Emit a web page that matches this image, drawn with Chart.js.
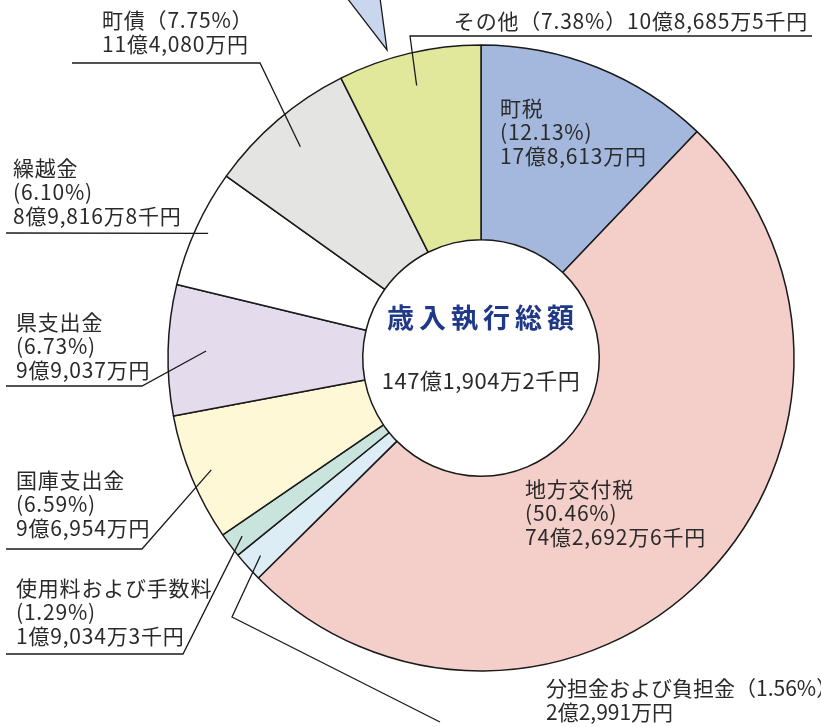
<!DOCTYPE html>
<html lang="ja">
<head>
<meta charset="utf-8">
<script src="https://cdn.jsdelivr.net/npm/chart.js@4"></script>
<style>
  body { margin: 0; background: #fff; }
  #wrap { width: 821px; height: 727px; }
</style>
</head>
<body>
<div id="wrap"><canvas id="chartRevenue" width="821" height="727"></canvas></div>
<script>
// ================================
// DATOS
// ================================
const categorias = ["町税", "地方交付税", "分担金および負担金", "使用料および手数料", "国庫支出金", "県支出金", "繰越金", "町債", "その他"];
const porcentajes = [12.13, 50.46, 1.56, 1.29, 6.59, 6.73, 6.10, 7.75, 7.38];
const importes = ["17億8,613万円", "74億2,692万6千円", "2億2,991万円", "1億9,034万3千円", "9億6,954万円", "9億9,037万円", "8億9,816万8千円", "11億4,080万円", "10億8,685万5千円"];
const colores = ["#a4b8de", "#f4cfca", "#dcedf6", "#c9e4dc", "#fff8d6", "#e4dced", "#ffffff", "#e4e4e2", "#e2e89b"];
const titulo = "歳入執行総額";
const total = "147億1,904万2千円";

// posiciones de las etiquetas (texto + líneas guía)
// r: radio del punto de anclaje dentro de la porción, path: quiebres de la línea
const etiquetas = [
    { x: 500, y: 108, lines: ["{n}", "({p}%)", "{a}"] },
    { x: 525, y: 489, lines: ["{n}", "({p}%)", "{a}"] },
    { x: 546, y: 688, ls: 0, lines: ["{n}（{p}%）", "{a}"], r: 296, path: [[232, 617], [440, 722]] },
    { x: 16, y: 588, lines: ["{n}", "({p}%)", "{a}"], r: 298, path: [[183, 654], [6, 654]] },
    { x: 16, y: 480, lines: ["{n}", "({p}%)", "{a}"], r: 292, path: [[142, 549], [6, 549]] },
    { x: 16, y: 322, lines: ["{n}", "({p}%)", "{a}"], r: 275, path: [[142, 386], [6, 386]] },
    { x: 13, y: 168, lines: ["{n}", "({p}%)", "{a}"], r: 300, path: [[6, 233]] },
    { x: 102, y: 20, lines: ["{n}（{p}%）", "{a}"], r: 278, path: [[260, 63], [72, 63]] },
    { x: 808, y: 21, align: "right", lines: ["{n}（{p}%）{a}"], r: 280, path: [[410, 36], [812, 36]] }
];

const FUENTE = '"Noto Sans CJK JP", "Noto Sans", sans-serif';

const pluginEtiquetas = {
    id: "etiquetas",
    beforeDatasetsDraw(chart) {
        // punta de globo decorativa arriba a la izquierda
        const ctx = chart.ctx;
        ctx.save();
        ctx.beginPath();
        ctx.moveTo(347, -2);
        ctx.lineTo(387, 50);
        ctx.lineTo(380, -2);
        ctx.closePath();
        ctx.fillStyle = "#c8d7ee";
        ctx.fill();
        ctx.strokeStyle = "#1a1a1a";
        ctx.lineWidth = 1.3;
        ctx.stroke();
        ctx.restore();
    },
    afterDatasetsDraw(chart) {
        const ctx = chart.ctx;
        const meta = chart.getDatasetMeta(0);
        ctx.save();

        meta.data.forEach(function (arc, i) {
            const e = etiquetas[i];
            if (e.path) {
                const mid = (arc.startAngle + arc.endAngle) / 2;
                const ax = arc.x + e.r * Math.cos(mid);
                const ay = arc.y + e.r * Math.sin(mid);
                ctx.beginPath();
                ctx.moveTo(ax, ay);
                e.path.forEach(p => ctx.lineTo(p[0], p[1]));
                ctx.strokeStyle = "#1a1a1a";
                ctx.lineWidth = 1.3;
                ctx.stroke();
            }
            ctx.fillStyle = "#2a2a2a";
            ctx.font = "21px " + FUENTE;
            if ("letterSpacing" in ctx) ctx.letterSpacing = (e.ls === undefined ? 0.8 : e.ls) + "px";
            ctx.textBaseline = "middle";
            ctx.textAlign = e.align || "left";
            e.lines.forEach(function (l, k) {
                const txt = l.replace("{n}", categorias[i])
                    .replace("{p}", porcentajes[i].toFixed(2))
                    .replace("{a}", importes[i]);
                ctx.fillText(txt, e.x, e.y + k * 24);
            });
        });

        // texto central
        const c = meta.data[0];
        ctx.textAlign = "center";
        ctx.textBaseline = "middle";
        ctx.fillStyle = "#1f3888";
        ctx.font = "bold 27px " + FUENTE;
        if ("letterSpacing" in ctx) ctx.letterSpacing = "5px";
        ctx.fillText(titulo, c.x + 2, c.y - 40);
        if ("letterSpacing" in ctx) ctx.letterSpacing = "0.5px";
        ctx.fillStyle = "#2a2a2a";
        ctx.font = "22px " + FUENTE;
        ctx.fillText(total, c.x, c.y + 23);
        ctx.restore();
    }
};

new Chart(document.getElementById("chartRevenue"), {
    type: "doughnut",
    data: {
        labels: categorias,
        datasets: [{
            data: porcentajes,
            backgroundColor: colores,
            borderColor: "#1a1a1a",
            borderWidth: 1.5
        }]
    },
    options: {
        responsive: false,
        animation: false,
        radius: 313,
        cutout: 118,
        layout: { padding: { top: 45, bottom: 56, left: 168, right: 27 } },
        plugins: {
            legend: { display: false },
            tooltip: { enabled: false }
        }
    },
    plugins: [pluginEtiquetas]
});
</script>
</body>
</html>
